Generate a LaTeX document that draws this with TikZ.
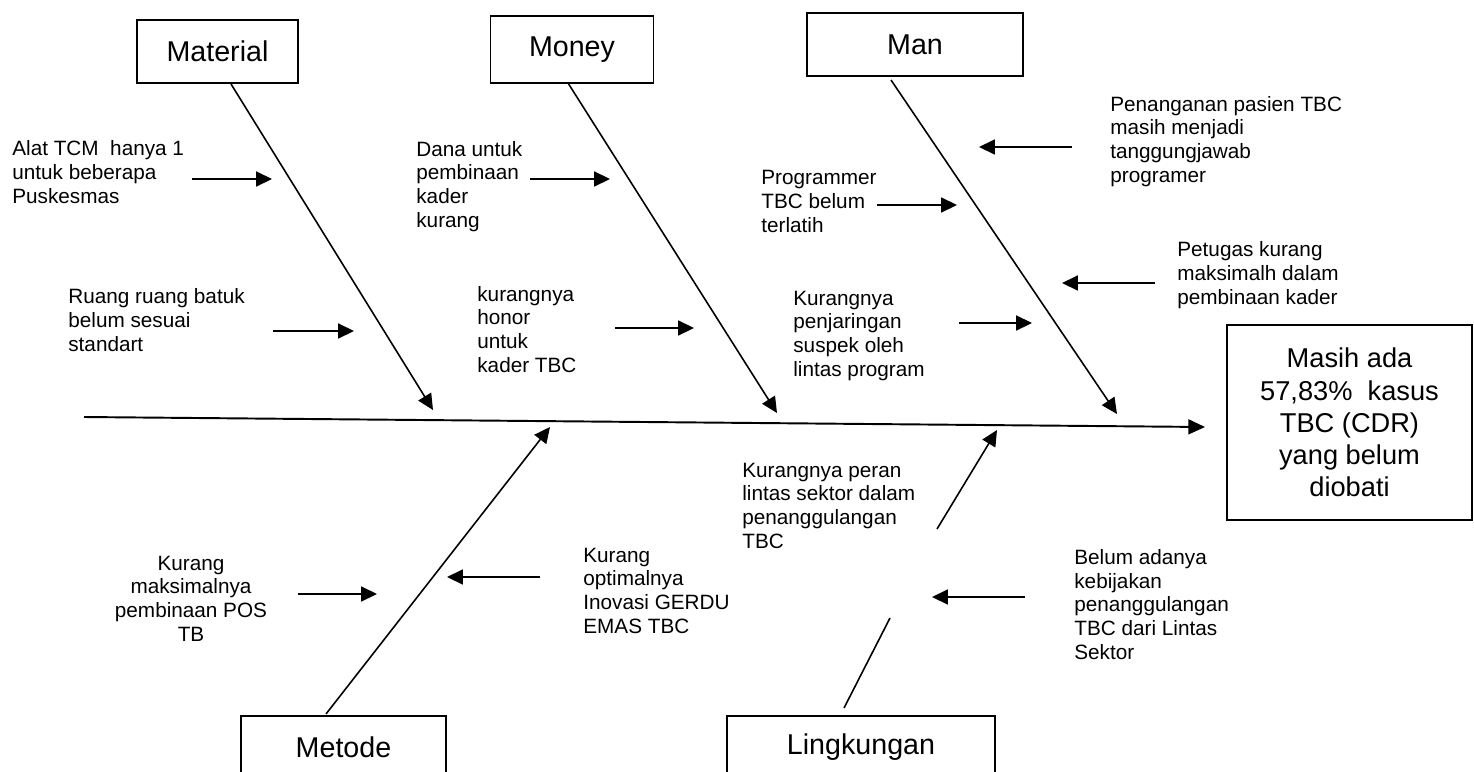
\documentclass[tikz,border=0pt]{standalone}
\usepackage{fontspec}
\setmainfont{Liberation Sans}
\usetikzlibrary{arrows.meta}
\tikzset{
  fishbox/.style={draw, line width=1.1pt, inner sep=0pt, font=\fontsize{16.3}{19}\selectfont},
  fisheffect/.style={draw, line width=1.1pt, inner sep=0pt, align=center, font=\fontsize{15.5}{18.3}\selectfont},
  fishtext/.style={inner sep=0pt, align=left, anchor=base west, font=\fontsize{11.8}{13.4}\selectfont},
  fishbone/.style={line width=0.9pt},
  fisharrow/.style={-{Triangle[length=9pt, width=8.5pt]}, line width=0.9pt},
  fishspine/.style={-{Triangle[length=9.5pt, width=8.5pt]}, line width=1.1pt}
}

\begin{document}
\begin{tikzpicture}[x=0.02cm, y=-0.02cm]
  \useasboundingbox (0,0) rectangle (1474,771);

  \node[fishbox, minimum width=3.22cm, minimum height=1.26cm] (material) at (217.5,51.5) {Material};
  \node[fishbox, minimum width=3.26cm, minimum height=1.34cm] (money) at (572,49.5) {Money};
  \node[fishbox, minimum width=4.32cm, minimum height=1.26cm] (man) at (915,44.5) {Man};
  \node[fishbox, minimum width=4.1cm, minimum height=1.24cm] (metode) at (343.5,747) {Metode};
  \node[fishbox, minimum width=5.36cm, minimum height=1.24cm] (lingkungan) at (861,747) {Lingkungan};
  \node[fisheffect, minimum width=4.9cm, minimum height=3.9cm] (effect) at (1349.5,422.5) {Masih ada\\57,83\%~ kasus\\TBC (CDR)\\yang belum\\diobati};

  \node[fishtext] (alat) at (12,203) {Alat TCM~ hanya 1\\untuk beberapa\\Puskesmas};
  \node[fishtext] (dana) at (416,227) {Dana untuk\\pembinaan\\kader\\kurang};
  \node[fishtext] (programmer) at (761,232) {Programmer\\TBC belum\\terlatih};
  \node[fishtext] (penanganan) at (1110,182) {Penanganan pasien TBC\\masih menjadi\\tanggungjawab\\programer};
  \node[fishtext] (petugas) at (1177,304) {Petugas kurang\\maksimalh dalam\\pembinaan kader};
  \node[fishtext] (ruang) at (68,351) {Ruang ruang batuk\\belum sesuai\\standart};
  \node[fishtext] (honor) at (477,372) {kurangnya\\honor\\untuk\\kader TBC};
  \node[fishtext] (penjaringan) at (793,376) {Kurangnya\\penjaringan\\suspek oleh\\lintas program};
  \node[fishtext] (peran) at (742,548) {Kurangnya peran\\lintas sektor dalam\\penanggulangan\\TBC};
  \node[fishtext, align=center, anchor=base] (posTB) at (191,641) {Kurang\\maksimalnya\\pembinaan POS\\TB};
  \node[fishtext] (gerdu) at (583,633) {Kurang\\optimalnya\\Inovasi GERDU\\EMAS TBC};
  \node[fishtext] (kebijakan) at (1074,659) {Belum adanya\\kebijakan\\penanggulangan\\TBC dari Lintas\\Sektor};

  \coordinate (spineTail) at (84,417);
  \coordinate (spineHead) at (1205,427);
  \coordinate (matTail) at (231,84);
  \coordinate (matHead) at (433,410);
  \coordinate (monTail) at (568,83);
  \coordinate (monHead) at (777,413);
  \coordinate (manTail) at (891,80);
  \coordinate (manHead) at (1117,414);
  \coordinate (metTail) at (326,714);
  \coordinate (metHead) at (550,427);
  \coordinate (linTail) at (844,708);
  \coordinate (linBreak) at (890,618);
  \coordinate (linFrom) at (937,529);
  \coordinate (linHead) at (997,430);

  \coordinate (alatFrom) at (192,179);
  \coordinate (alatTo) at (272,179);
  \coordinate (danaFrom) at (530,179);
  \coordinate (danaTo) at (610,179);
  \coordinate (progFrom) at (877,205);
  \coordinate (progTo) at (957,205);
  \coordinate (penangananFrom) at (1072,147);
  \coordinate (penangananTo) at (979,147);
  \coordinate (petugasFrom) at (1155,283);
  \coordinate (petugasTo) at (1062,283);
  \coordinate (ruangFrom) at (273,331);
  \coordinate (ruangTo) at (354,331);
  \coordinate (honorFrom) at (615,328);
  \coordinate (honorTo) at (694,328);
  \coordinate (jaringFrom) at (959,323);
  \coordinate (jaringTo) at (1032,323);
  \coordinate (posFrom) at (298,594);
  \coordinate (posTo) at (377,594);
  \coordinate (gerduFrom) at (540,577);
  \coordinate (gerduTo) at (447,577);
  \coordinate (bijakFrom) at (1025,597);
  \coordinate (bijakTo) at (932,597);

  \draw[fishspine] (spineTail) -- (spineHead);
  \draw[fisharrow] (matTail) -- (matHead);
  \draw[fisharrow] (monTail) -- (monHead);
  \draw[fisharrow] (manTail) -- (manHead);
  \draw[fisharrow] (metTail) -- (metHead);
  \draw[fishbone] (linTail) -- (linBreak);
  \draw[fisharrow] (linFrom) -- (linHead);

  \draw[fisharrow] (alatFrom) -- (alatTo);
  \draw[fisharrow] (danaFrom) -- (danaTo);
  \draw[fisharrow] (progFrom) -- (progTo);
  \draw[fisharrow] (penangananFrom) -- (penangananTo);
  \draw[fisharrow] (petugasFrom) -- (petugasTo);
  \draw[fisharrow] (ruangFrom) -- (ruangTo);
  \draw[fisharrow] (honorFrom) -- (honorTo);
  \draw[fisharrow] (jaringFrom) -- (jaringTo);
  \draw[fisharrow] (posFrom) -- (posTo);
  \draw[fisharrow] (gerduFrom) -- (gerduTo);
  \draw[fisharrow] (bijakFrom) -- (bijakTo);
\end{tikzpicture}
\end{document}
